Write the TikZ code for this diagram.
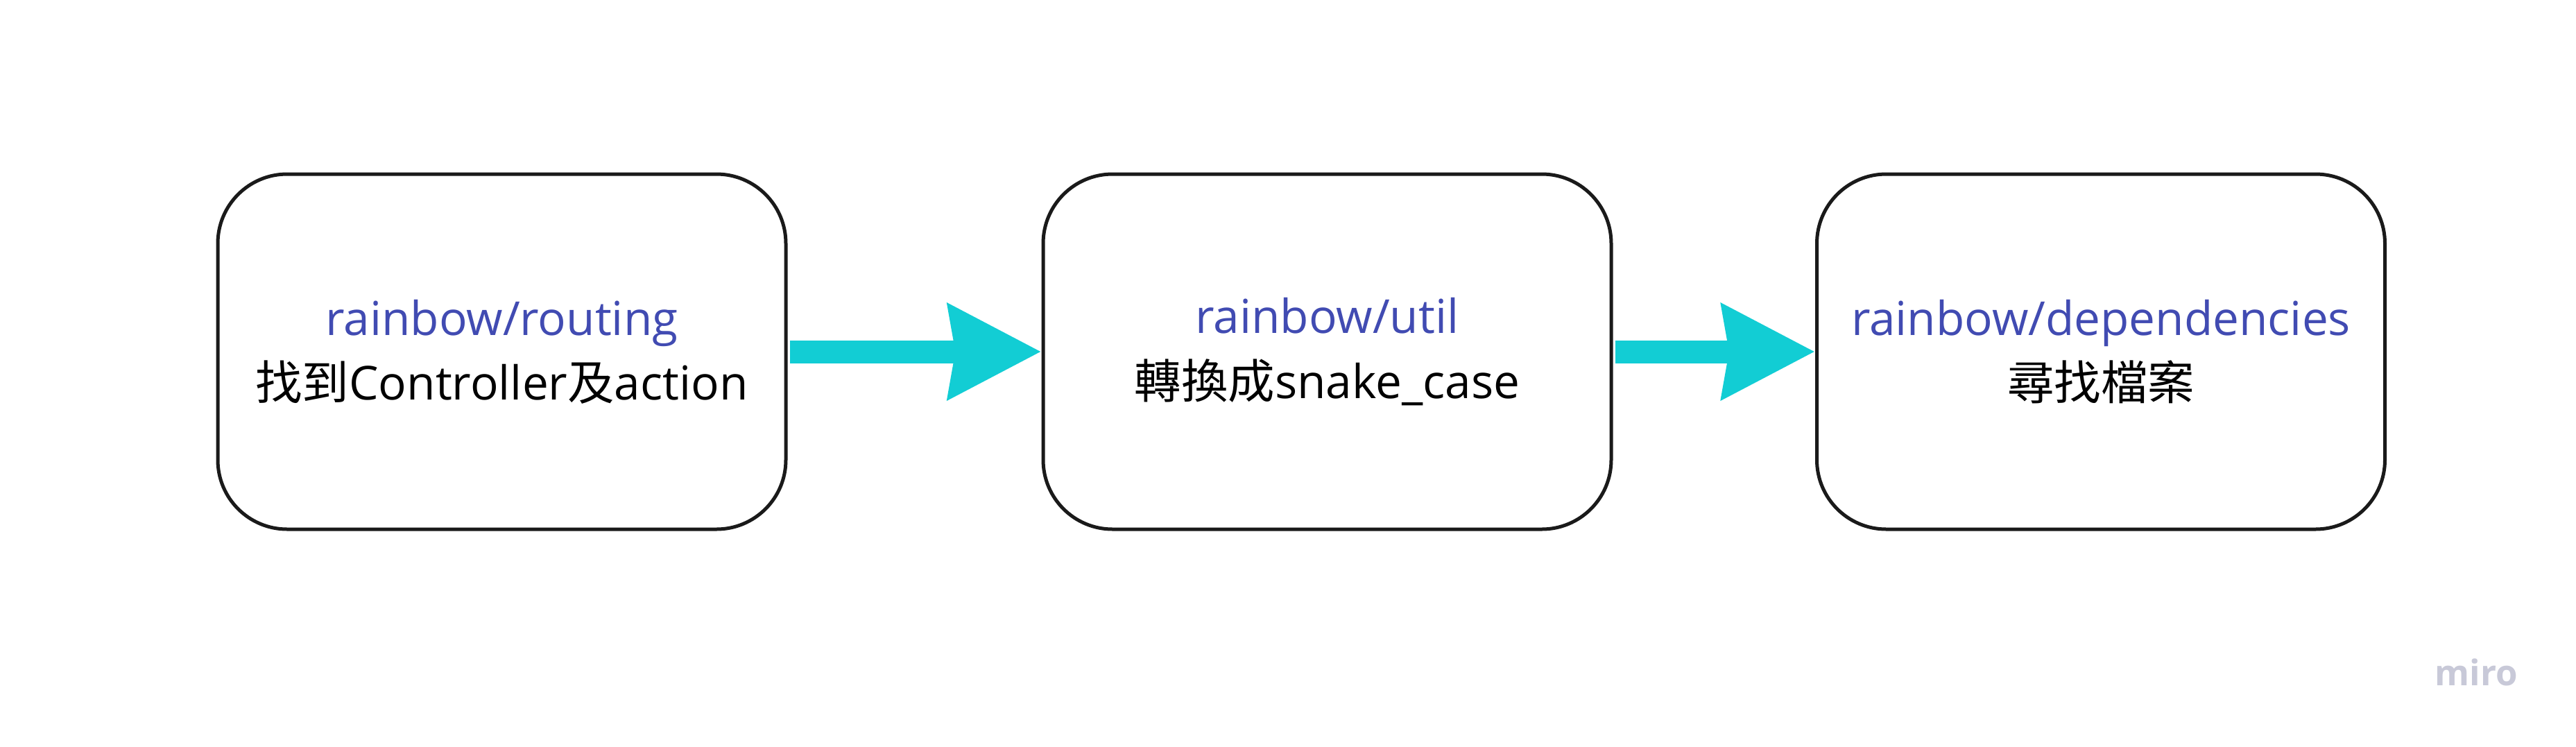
\documentclass[tikz,border=0pt]{standalone}
\usepackage{fontspec}
\setmainfont{Open Sans}
\newfontfamily\zhfont{Noto Sans CJK TC}
\usepackage{tikz}
\usetikzlibrary{arrows.meta,positioning}
\definecolor{ink}{RGB}{26,26,26}
\definecolor{miroblue}{RGB}{65,75,178}
\definecolor{mirocyan}{RGB}{18,205,212}
\definecolor{mirogrey}{RGB}{200,201,216}
\newcommand{\zh}[1]{{\zhfont #1}}
\newcommand{\pkgname}[1]{{\color{miroblue}#1}}
\tikzset{
  pkg/.style={draw=ink,line width=0.05cm,rounded corners=1cm,fill=white,minimum width=8.19cm,minimum height=5.12cm,align=center,font=\fontsize{19.2pt}{26.5pt}\selectfont},
  pipe/.style={-{Stealth[length=1.33cm,width=1.33cm,inset=0.09cm]},draw=mirocyan,line width=0.33cm,shorten <=0.03cm},
  brand/.style={anchor=base west,text=mirogrey,font=\fontsize{14.5pt}{16pt}\selectfont\bfseries}
}

\begin{document}
\begin{tikzpicture}
\fill[white] (0,0) rectangle (37.14,-10.76);
\node[pkg] (routing) at (7.235,-5.07) {\pkgname{rainbow/routing}\\\zh{找到}Controller\zh{及}action};
\node[pkg] (util) at (19.135,-5.07) {\pkgname{rainbow/util}\\\zh{轉換成}snake\_case};
\node[pkg] (deps) at (30.29,-5.07) {\pkgname{rainbow/dependencies}\\\zh{尋找檔案}};
\draw[pipe] (routing) -- (util);
\draw[pipe] (util) -- (deps);
\node[brand] (miro) at (34.98,-9.88) {miro};
\end{tikzpicture}
\end{document}
